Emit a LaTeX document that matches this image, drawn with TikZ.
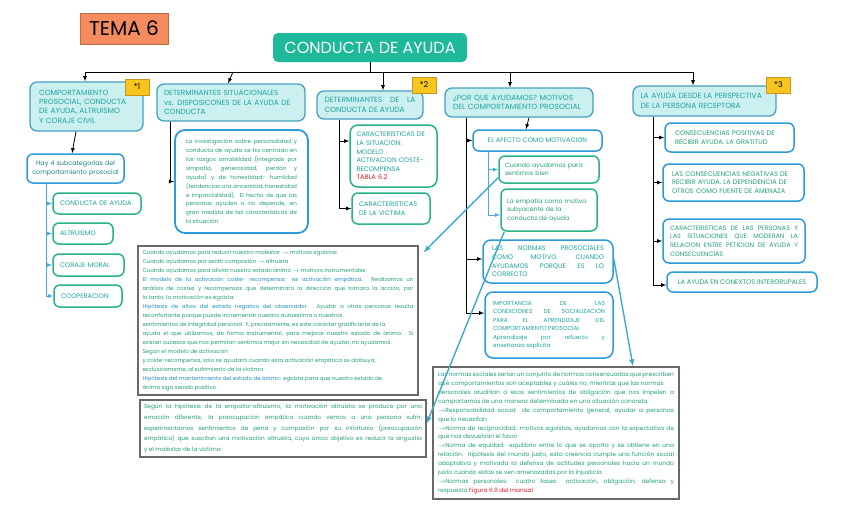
\documentclass[tikz,border=0pt]{standalone}
\usepackage{fontspec}
\setmainfont{Poppins}
\usepackage{tikz}
\hyphenpenalty=10000

\definecolor{temaorange}{RGB}{245,140,96}
\definecolor{temaedge}{RGB}{190,110,70}
\definecolor{mainteal}{RGB}{30,185,155}
\definecolor{tagyellow}{RGB}{248,196,30}
\definecolor{tagedge}{RGB}{200,150,30}
\definecolor{topfill}{RGB}{204,239,240}
\definecolor{topedge}{RGB}{70,160,195}
\definecolor{blueedge}{RGB}{45,155,215}
\definecolor{greenedge}{RGB}{40,178,140}
\definecolor{capteal}{RGB}{30,165,160}
\definecolor{textgreen}{RGB}{35,160,125}
\definecolor{textblue}{RGB}{35,145,195}
\definecolor{notered}{RGB}{230,30,40}
\definecolor{noteedge}{RGB}{105,105,105}
\definecolor{linkblue}{RGB}{75,170,215}
\definecolor{crossblue}{RGB}{60,170,200}
\newcommand{\flecha}{$\rightarrow$}

\begin{document}
\begin{tikzpicture}[x=1pt,y=-1pt,>=latex,
  tema/.style={fill=temaorange,draw=temaedge,line width=0.8pt,inner sep=0pt,font=\fontsize{20}{22}\selectfont},
  titlebox/.style={fill=mainteal,rounded corners=5pt,text=white,inner sep=0pt,font=\fontsize{16}{18}\selectfont},
  topbox/.style={draw=topedge,fill=topfill,rounded corners=7pt,line width=1.3pt,inner sep=0pt,text=capteal,align=left,font=\fontsize{7.5}{9.3}\selectfont},
  tagbox/.style={fill=tagyellow,draw=tagedge,line width=0.6pt,inner sep=0pt,minimum width=24pt,minimum height=16pt,font=\fontsize{8}{9}\selectfont},
  bluebox/.style={draw=blueedge,fill=white,rounded corners=6pt,line width=1.5pt,inner sep=0pt,text=capteal,align=left,font=\fontsize{6.6}{8.7}\selectfont},
  greenbox/.style={draw=greenedge,fill=white,rounded corners=6pt,line width=1.5pt,inner sep=0pt,text=capteal,align=left,font=\fontsize{6.6}{8.7}\selectfont},
  notebox/.style={draw=noteedge,fill=white,line width=1.2pt,inner sep=0pt,text=textgreen,align=justify,font=\fontsize{5.5}{9}\selectfont},
  link/.style={->,line width=0.8pt,black},
  sublink/.style={->,line width=0.8pt,linkblue},
  crosslink/.style={->,line width=1.4pt,crossblue}
]
\fill[white] (0,0) rectangle (848,515);
\useasboundingbox (0,0) rectangle (848,515);

% title
\node[tema,minimum width=88pt,minimum height=31pt] (tema) at (124,28.5) {TEMA 6};
\node[titlebox,minimum width=194pt,minimum height=29pt] (cda) at (370,47.5) {CONDUCTA DE AYUDA};

% first level
\node[topbox,minimum width=113pt,minimum height=49pt,text width=95pt] (b1) at (86.5,106.5)
  {COMPORTAMIENTO\\PROSOCIAL, CONDUCTA\\DE AYUDA, ALTRUISMO\\Y CORAJE CIVIL};
\node[topbox,minimum width=148pt,minimum height=37pt,text width=134pt,font=\fontsize{7.4}{9.3}\selectfont] (b2) at (231,102.5)
  {DETERMINANTES SITUACIONALES\\vs. DISPOSICONES DE LA AYUDA DE\\CONDUCTA};
\node[topbox,minimum width=106pt,minimum height=28pt,text width=91pt,align=justify] (b3) at (370,105)
  {DETERMINANTES DE LA\linebreak CONDUCTA DE AYUDA};
\node[topbox,minimum width=148pt,minimum height=29pt,text width=132pt] (b4) at (519,102.5)
  {¿POR QUE AYUDAMOS? MOTIVOS\\DEL COMPORTAMIENTO PROSOCIAL};
\node[topbox,minimum width=143pt,minimum height=30pt,text width=128pt] (b5) at (704.5,101)
  {LA AYUDA DESDE LA PERSPECTIVA\\DE LA PERSONA RECEPTORA};

\coordinate (busL) at (85,72);
\coordinate (busR) at (693,72);
\draw[line width=0.8pt] (cda.south) -- (cda.south |- busL);
\draw[line width=0.8pt] (busL) -- (busR);
\draw[link] (busL) -- (b1.north -| busL);
\draw[link] (233,72) -- ([xshift=-3pt]b2.north);
\draw[link] ([xshift=13pt]b3.north |- busL) -- ([xshift=13pt]b3.north);
\draw[link] ([xshift=-9pt]b4.north |- busL) -- ([xshift=-9pt]b4.north);
\draw[link] (busR) -- ([xshift=-11.5pt]b5.north);

\node[tagbox] (tag1) at (137,87) {*1};
\node[tagbox] (tag2) at (424,85) {*2};
\node[tagbox] (tag3) at (778.5,85) {*3};

% comportamiento prosocial
\node[bluebox,minimum width=97pt,minimum height=29pt,text width=90pt,align=center,text=capteal!80!black,font=\fontsize{6.4}{8.7}\selectfont] (h1) at (75.5,168.5)
  {Hay 4 subcategorías del\\comportamiento prosocial};
\node[greenbox,minimum width=88pt,minimum height=21pt,text width=74pt] (s1) at (97,203.5) {CONDUCTA DE AYUDA};
\node[greenbox,minimum width=60pt,minimum height=21pt,text width=46pt] (s2) at (83,233.5) {ALTRUISMO};
\node[greenbox,minimum width=71pt,minimum height=22pt,text width=57pt] (s3) at (88.5,265) {CORAJE MORAL};
\node[greenbox,minimum width=68pt,minimum height=22pt,text width=54pt] (s4) at (88,296) {COOPERACION};

\draw[link] ([xshift=-10.5pt]b1.south) -- ([xshift=-3.5pt]h1.north);
\coordinate (h1x) at ([xshift=-29.5pt]h1.south);
\draw[sublink] (h1x) |- (s1.west);
\draw[sublink] (h1x) |- (s2.west);
\draw[sublink] (h1x) |- (s3.west);
\draw[sublink] (h1x) |- (s4.west);

% determinantes situacionales
\node[bluebox,rounded corners=10pt,line width=1.8pt,minimum width=133pt,minimum height=103pt,text width=111pt,align=justify,text=textgreen,font=\fontsize{5.6}{8.9}\selectfont] (i2) at (241.5,181.5)
  {La investigación sobre personalidad y\linebreak conducta de ayuda se ha centrado en\linebreak los rasgos amabilidad (integrado por\linebreak simpatía, generosidad, perdón y\linebreak ayuda) y de honestidad- humildad\linebreak (tendencias a la sinceridad, honestidad\linebreak e imparcialidad). El hecho de que las\linebreak personas ayuden o no depende, en\linebreak gran medida de las características de\linebreak la situación};
\draw[link] ([xshift=-61pt]b2.south) |- (i2.west);

% determinantes de la conducta
\node[greenbox,rounded corners=8pt,minimum width=87pt,minimum height=62pt,text width=74pt,font=\fontsize{6.6}{8.6}\selectfont] (c31) at (393.5,156)
  {CARACTERISTICAS DE\\LA SITUACION:\\MODELO\\ACTIVACION COSTE-\\RECOMPENSA\\{\color{notered}TABLA 6.2}};
\node[greenbox,minimum width=78pt,minimum height=31pt,text width=64pt] (c32) at (391,208.5)
  {CARACTERISTICAS\\DE LA VICTIMA};
\coordinate (b3x) at ([xshift=-31pt]b3.south);
\draw[link] (b3x) |- ([yshift=15pt]c31.west);
\draw[link] (b3x) |- (c32.west);

% motivos
\node[bluebox,minimum width=129pt,minimum height=21pt,align=center] (a4) at (537.5,140.5) {EL AFECTO COMO MOTIVACION};
\node[greenbox,minimum width=100pt,minimum height=27pt,text width=88pt,text=textgreen,font=\fontsize{6.2}{8.4}\selectfont] (e1) at (549,169.5)
  {Cuando ayudamos para\\sentirnos bien};
\node[greenbox,minimum width=96pt,minimum height=42pt,text width=84pt,text=textgreen,font=\fontsize{6.2}{8.6}\selectfont] (e2) at (549,210)
  {La empatía como motivo\\subyacente de la\\conducta de ayuda};
\node[bluebox,rounded corners=8pt,minimum width=130pt,minimum height=43pt,text width=112pt,align=justify] (n4) at (548,261.5)
  {LAS NORMAS PROSOCIALES\linebreak COMO MOTIVO. CUANDO\linebreak AYUDAMOS PORQUE ES LO\linebreak CORRECTO};
\node[bluebox,rounded corners=8pt,minimum width=128pt,minimum height=66pt,text width=112pt,align=justify,font=\fontsize{5.8}{8.5}\selectfont] (m4) at (549,325)
  {IMPORTANCIA DE LAS\linebreak CONDICIONES DE SOCIALIZACIÓN\linebreak PARA EL APRENDIZAJE DEL\linebreak COMPORTAMIENTO PROSOCIAL\\ Aprendizaje por refuerzo y\linebreak enseñanza explícita};
\draw[link] ([xshift=10pt]b4.south) -- ([xshift=-11.5pt]a4.north);
\coordinate (b4x) at ([xshift=-53pt]b4.south);
\draw[link] (b4x) |- (a4.west);
\draw[link] (b4x) |- ([yshift=2.5pt]n4.west);
\draw[link] (b4x) |- ([yshift=12pt]m4.west);
\coordinate (a4x) at ([xshift=-49.5pt]a4.south);
\draw[sublink] (a4x) |- (e1.west);
\draw[sublink] (a4x) |- ([yshift=-5pt]e2.west);

% persona receptora
\node[bluebox,minimum width=129pt,minimum height=29pt,text width=109pt,text=textgreen] (r1) at (729.5,137.5)
  {CONSECUENCIAS POSITIVAS DE\\RECIBIR AYUDA. LA GRATITUD};
\node[bluebox,minimum width=141pt,minimum height=37pt,text width=123pt,text=textgreen] (r2) at (733.5,182.5)
  {LAS CONSECUENCIAS NEGATIVAS DE\\RECIBIR AYUDA. LA DEPENDENCIA DE\\OTROS COMO FUENTE DE AMENAZA};
\node[bluebox,minimum width=142pt,minimum height=44pt,text width=128pt,align=justify,text=textgreen,font=\fontsize{6.4}{8.7}\selectfont] (r3) at (734,241)
  {CARACTERISTICAS DE LAS PERSONAS Y\linebreak LAS SITUACIONES QUE MODERAN LA\linebreak RELACION ENTRE PETICION DE AYUDA Y\linebreak CONSECUENCIAS};
\node[bluebox,minimum width=150pt,minimum height=20pt,align=center,text=textgreen] (r4) at (742,282)
  {LA AYUDA EN CONEXTOS INTERGRUPALES};
\coordinate (b5x) at ([xshift=-51.5pt]b5.south);
\draw[link] (b5x) |- (r1.west);
\draw[link] (b5x) |- (r2.west);
\draw[link] (b5x) |- (r3.west);
\draw[link] (b5x) |- ([yshift=-3pt]r4.west);

% notes
\node[notebox,minimum width=280pt,minimum height=149pt,text width=271pt] (T1) at (278,320.5)
  {Cuando ayudamos para reducir nuestro malestar \flecha{} motivos egoístas\\
   Cuando ayudamos por sentir compasión \flecha{} altruista\\
   Cuando ayudamos para aliviar nuestro estado ánimo \flecha{} motivos instrumentales\\
   {\color{textblue}El modelo de la activación coste- recompensa: es activación empática.} Realizamos un\linebreak
   análisis de costes y recompensas que determinara la dirección que tomara la acción, por\linebreak
   lo tanto, la motivación es egoísta.\\
   {\color{textblue}Hipótesis de alivio del estado negativo del observador.} Ayudar a otras personas resulta\linebreak
   reconfortante porque puede incrementar nuestra autoestima o nuestros\\
   sentimientos de integridad personal. Y, precisamente, es este carácter gratificante de la\\
   ayuda el que utilizamos, de forma instrumental, para mejorar nuestro estado de ánimo. Si\linebreak
   existen sucesos que nos permitan sentirnos mejor sin necesidad de ayudar, no ayudamos.\\
   Según el modelo de activación\\
   y coste-recompensa, solo se ayudará cuando esta activación empática se atribuya,\\
   exclusivamente, al sufrimiento de la víctima\\
   {\color{textblue}Hipótesis del mantenimiento del estado de ánimo:} egoísta para que nuestro estado de\\
   ánimo siga siendo positivo};
\node[notebox,minimum width=286pt,minimum height=57pt,text width=278pt,font=\fontsize{5.8}{10.7}\selectfont] (T2) at (283,428.5)
  {Según la hipótesis de la empatía-altruismo, la motivación altruista se produce por una\linebreak
   emoción diferente, la preocupación empática cuando vemos a una persona sufrir,\linebreak
   experimentamos sentimientos de pena y compasión por su infortunio (preocupación\linebreak
   empática) que suscitan una motivación altruista, cuyo único objetivo es reducir la angustia\linebreak
   y el malestar de la víctima};
\node[notebox,minimum width=246pt,minimum height=132pt,text width=236pt,font=\fontsize{5.9}{8.9}\selectfont] (T3) at (556,433)
  {Las normas sociales serían un conjunto de normas consensuadas que prescriben\linebreak
   qué comportamientos son aceptables y cuáles no, mientras que las normas\\
   personales aludirían a esos sentimientos de obligación que nos impelen a\linebreak
   comportarnos de una manera determinada en una situación concreta.\\
   \flecha Responsabilidad social: de comportamiento general, ayudar a personas\linebreak
   que lo necesitan\\
   \flecha Norma de reciprocidad: motivos egoístas, ayudamos con la expectativa de\linebreak
   que nos devuelvan el favor\\
   \flecha Norma de equidad: equilibrio entre lo que se aporta y se obtiene en una\linebreak
   relación. Hipótesis del mundo justo, esta creencia cumple una función social\linebreak
   adaptativa y motivada la defensa de actitudes personales hacia un mundo\linebreak
   justo cuando estas se ven amenazadas por la injusticia\\
   \flecha Normas personales: cuatro fases: activación, obligación, defensa y\linebreak
   respuesta {\color{notered}Figura 6.9 del manual}};

\draw[crosslink] ([yshift=-8pt]e1.west) -- ([xshift=5pt,yshift=-7pt]T1.north east);
\draw[crosslink] ([xshift=4pt]e2.south west) -- ([yshift=5pt]T2.east);
\draw[crosslink] ([yshift=3pt]n4.east) -- ([xshift=77pt]T3.north);
\end{tikzpicture}
\end{document}
